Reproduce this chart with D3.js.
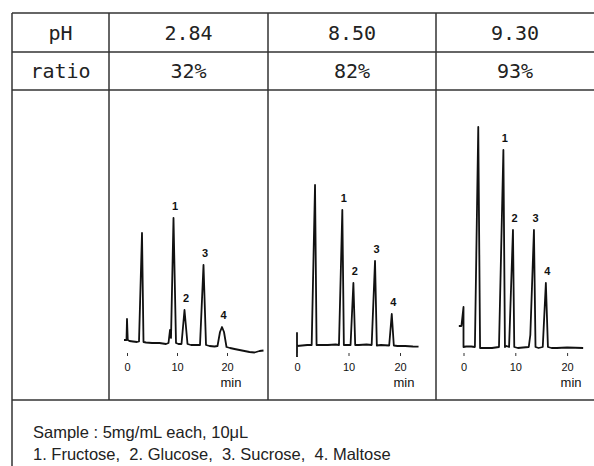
<!DOCTYPE html>
<html>
<head>
<meta charset="utf-8">
<script src="https://cdn.jsdelivr.net/npm/d3@7"></script>
<style>
  body { margin: 0; background: #fff; }
  .grid { stroke: #333; stroke-width: 1.5; }
  .head { font-family: "DejaVu Sans Mono", monospace; font-size: 20px; fill: #222; }
  .trace { fill: none; stroke: #111; stroke-width: 1.8; stroke-linejoin: round; }
  .peak { font-family: "Liberation Sans", Arial, sans-serif; font-size: 11px; font-weight: bold; fill: #111; }
  .axis text { font-family: "Liberation Sans", Arial, sans-serif; font-size: 11px; fill: #111; }
  .axis line { stroke: #333; }
  .unit { font-family: "Liberation Sans", Arial, sans-serif; font-size: 13px; fill: #111; }
  .note { font-family: "Liberation Sans", Arial, sans-serif; font-size: 16.5px; fill: #222; white-space: pre; }
</style>
</head>
<body>
<svg width="594" height="466"></svg>
<script>
// table text
var rowLabels = ["pH", "ratio"];
var phValues = ["2.84", "8.50", "9.30"];
var ratioValues = ["32%", "82%", "93%"];
var tickValues = [0, 10, 20];
var peakNames = ["1", "2", "3", "4"];
var noteLines = ["Sample : 5mg/mL each, 10\u03bcL",
                 "1. Fructose,  2. Glucose,  3. Sucrose,  4. Maltose"];

// chromatogram traces, time (min) and detector signal
var trace1Time = [-0.6, -0.1, 0, 0.15, 0.5, 1.2, 2.0, 2.4, 3.0, 3.3, 3.8, 5.0, 6.5, 7.8, 8.3, 8.6, 8.8, 9.3, 9.8, 10.3,
                  10.9, 11.5, 12.1, 12.8, 14.0, 14.6, 15.3, 15.8, 16.5, 17.5, 18.1, 18.6, 19.0, 19.4, 19.9, 20.6, 21.5,
                  22.5, 23.5, 24.5, 25.5, 26.5, 27.3];
var trace1Signal = [0, 0, 21, 0, -1, -1.5, -2, -1.5, 107, -2, -2.5, -3, -3, -4, -3, 10, 2, 122, -3, -4,
                    -4, 30, -4, -5, -5, -5, 75, -5, -6, -6.5, -6, 8, 13, 8, -7, -8, -9,
                    -10, -11, -12, -12.5, -11, -10.5];

var trace2Time = [0, 0, 0, 1.0, 2.0, 2.85, 3.5, 3.8, 4.5, 6.0, 7.5, 8.15, 8.8, 9.1, 9.6, 10.4, 10.95, 11.3, 12.0,
                  13.5, 14.5, 15.15, 15.5, 16.3, 17.9, 18.4, 18.8, 19.5, 21.0, 22.5, 23.6];
var trace2Signal = [-11, 13, 0, 0.5, 1, 1, 161, 1, 1, 1, 1.5, 1, 136, 1, 1, 1, 63, 1, 1,
                    1.5, 1, 85, 0.5, 1, 0.5, 32, 0.5, 0, 0, -0.5, -0.7];

var trace3Time = [-0.9, -0.4, 0, 0, 0.5, 1.5, 2.2, 2.85, 3.2, 4.0, 5.5, 6.85, 7.7, 8.0, 8.3, 8.8, 9.55, 9.8,
                  10.5, 11.5, 12.6, 12.9, 13.6, 13.9, 14.5, 15.3, 15.9, 16.3, 17.0, 18.0, 20.0, 23.1];
var trace3Signal = [21, 21, 40, 0, 0.5, 0.5, 0, 220, -1, -1, -1, 0, 197, 0, 1, 0, 117, 0,
                    -1, -0.5, 0, 12, 117, 0, -1, 0, 64, 0, -1, -1, -0.5, -1];

// labelled peaks (time, top signal)
var peaks1Time = [9.3, 11.5, 15.3, 19.0],   peaks1Top = [122, 30, 75, 13];
var peaks2Time = [8.8, 10.95, 15.15, 18.4], peaks2Top = [136, 63, 85, 32];
var peaks3Time = [7.7, 9.55, 13.6, 15.9],   peaks3Top = [197, 117, 117, 64];

var svg = d3.select("svg");

// table frame
var left = 12, right = 594,
    rowY = [13, 52, 90, 400],
    colX = [left, 109, 268, 436, right];

var grid = svg.append("g");
rowY.forEach(function(y) {
  grid.append("line").attr("class", "grid")
    .attr("x1", left).attr("x2", right).attr("y1", y).attr("y2", y);
});
grid.append("line").attr("class", "grid")
  .attr("x1", left).attr("x2", left).attr("y1", rowY[0]).attr("y2", 466);
colX.slice(1, 4).forEach(function(x) {
  grid.append("line").attr("class", "grid")
    .attr("x1", x).attr("x2", x).attr("y1", rowY[0]).attr("y2", rowY[3]);
});

// header rows
var rows = [[rowLabels[0]].concat(phValues), [rowLabels[1]].concat(ratioValues)];
rows.forEach(function(row, r) {
  var yMid = (rowY[r] + rowY[r + 1]) / 2;
  row.forEach(function(txt, c) {
    svg.append("text").attr("class", "head")
      .attr("x", (colX[c] + colX[c + 1]) / 2)
      .attr("y", yMid + 7)
      .attr("text-anchor", "middle")
      .text(txt);
  });
});

// chromatograms
var panels = [
  {time: trace1Time, signal: trace1Signal, pt: peaks1Time, ph: peaks1Top, x0: 127, perMin: 5.0, base: 340},
  {time: trace2Time, signal: trace2Signal, pt: peaks2Time, ph: peaks2Top, x0: 297, perMin: 5.15, base: 346},
  {time: trace3Time, signal: trace3Signal, pt: peaks3Time, ph: peaks3Top, x0: 463.5, perMin: 5.18, base: 347}
];

panels.forEach(function(p) {
  var x = d3.scaleLinear().domain([0, 20]).range([p.x0, p.x0 + 20 * p.perMin]);
  var y = d3.scaleLinear().domain([0, 220]).range([p.base, p.base - 220]);

  var pts = p.time.map(function(t, i) { return [t, p.signal[i]]; });
  var line = d3.line()
    .x(function(d) { return x(d[0]); })
    .y(function(d) { return y(d[1]); });

  svg.append("path").datum(pts).attr("class", "trace").attr("d", line);

  svg.selectAll(null).data(p.pt).enter().append("text")
    .attr("class", "peak")
    .attr("x", function(d) { return x(d) + 1.5; })
    .attr("y", function(d, i) { return y(p.ph[i]) - 8; })
    .attr("text-anchor", "middle")
    .text(function(d, i) { return peakNames[i]; });

  var ax = svg.append("g").attr("class", "axis")
    .attr("transform", "translate(0,353)")
    .call(d3.axisBottom(x).tickValues(tickValues).tickSize(3).tickPadding(7));
  ax.select(".domain").remove();

  svg.append("text").attr("class", "unit")
    .attr("x", x(20) + 4)
    .attr("y", 387)
    .attr("text-anchor", "middle")
    .text("min");
});

// footnote
svg.selectAll(".note").data(noteLines).enter().append("text")
  .attr("class", "note")
  .attr("x", 33)
  .attr("y", function(d, i) { return 438 + i * 22; })
  .text(function(d) { return d; });
</script>
</body>
</html>
